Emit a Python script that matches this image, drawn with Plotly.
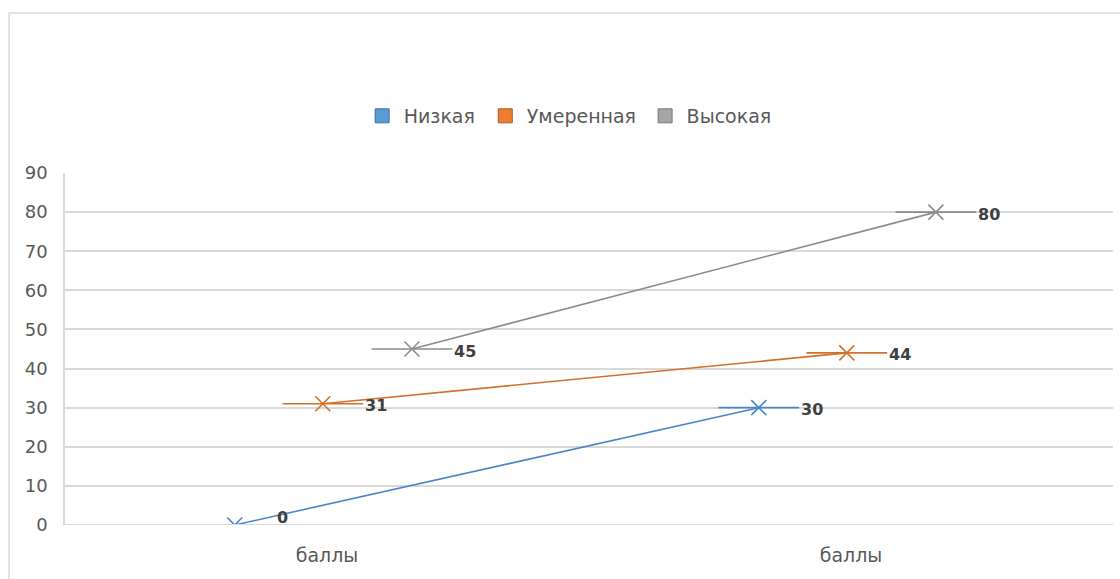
import plotly.graph_objects as go

# Data
categories = ["баллы", "баллы"]
series_names = ["Низкая", "Умеренная", "Высокая"]
nizkaya = [0, 30]
umerennaya = [31, 44]
vysokaya = [45, 80]
y_ticks = [0, 10, 20, 30, 40, 50, 60, 70, 80, 90]

series_values = [nizkaya, umerennaya, vysokaya]

# Styling
line_colors = ["#4A86C5", "#D4702C", "#8C8C8C"]
legend_colors = ["#5B9BD5", "#ED7D31", "#A5A5A5"]
legend_borders = ["#41719C", "#AE5A21", "#787878"]
series_shift = [-0.176, -0.008, 0.162]   # horizontal offset of each series within a category
whisker = 0.077                          # half-length of the horizontal dash through each point
legend_x = [0.2821, 0.3996, 0.5521]      # left edge of each legend entry (paper units)
FONT = "DejaVu Sans, Open Sans, sans-serif"
TXT = "#595959"
AXIS = "#D9D9D9"
Y_MIN, Y_MAX = 0, 90

cat_pos = list(range(len(categories)))

fig = go.Figure()

for name, vals, col, shift in zip(series_names, series_values, line_colors, series_shift):
    xs = [p + shift for p in cat_pos]
    fig.add_trace(go.Scatter(
        x=xs, y=vals, name=name, mode="lines+markers",
        line=dict(color=col, width=1.6),
        marker=dict(symbol="x-thin-open", size=15, line=dict(color=col, width=1.6), color=col),
        error_x=dict(type="constant", value=whisker, thickness=1.6, width=0, color=col),
        cliponaxis=True, showlegend=False,
    ))
    for x, v in zip(xs, vals):
        # labels sitting on the bottom edge are nudged up to stay inside the plot area
        fig.add_annotation(
            x=x, y=v, text=str(v), showarrow=False, xanchor="left", yanchor="middle",
            xshift=40, yshift=8 if v <= Y_MIN else -2,
            font=dict(family=FONT, size=16, color="#404040", weight="bold"),
        )

# Legend entries shown as filled squares, one legend box per series
legend_keys = ["legend", "legend2", "legend3"]
for name, col, bcol, key in zip(series_names, legend_colors, legend_borders, legend_keys):
    fig.add_trace(go.Scatter(
        x=[None], y=[None], name=name, mode="markers", legend=key,
        marker=dict(symbol="square", size=14, color=col, line=dict(color=bcol, width=1)),
    ))

# Category axis baseline, drawn over the series
fig.add_shape(type="line", xref="paper", yref="y", x0=0, x1=1, y0=Y_MIN, y1=Y_MIN,
              line=dict(color=AXIS, width=2), layer="above")

# Outer chart frame
fig.add_shape(type="rect", xref="paper", yref="paper",
              x0=-0.0534, x1=1.2, y0=-0.3, y1=1.4545,
              line=dict(color=AXIS, width=1.5), fillcolor="rgba(0,0,0,0)", layer="below")

legend_style = dict(orientation="h", xanchor="left", y=1.162, yanchor="middle",
                    font=dict(family=FONT, size=19, color=TXT), itemwidth=33,
                    bgcolor="rgba(0,0,0,0)")

fig.update_layout(
    width=1120, height=579,
    margin=dict(l=65, r=7, t=173, b=54),
    paper_bgcolor="white", plot_bgcolor="white",
    font=dict(family=FONT, size=17, color=TXT),
    showlegend=True,
    legend=dict(x=legend_x[0], **legend_style),
    legend2=dict(x=legend_x[1], **legend_style),
    legend3=dict(x=legend_x[2], **legend_style),
    xaxis=dict(
        range=[-0.5, len(categories) - 0.5],
        tickmode="array", tickvals=cat_pos, ticktext=categories,
        showgrid=False, zeroline=False, showline=False,
        ticks="", ticklabelstandoff=17,
        tickfont=dict(family=FONT, size=19, color=TXT),
    ),
    yaxis=dict(
        range=[Y_MIN, Y_MAX], tickmode="array", tickvals=y_ticks,
        showgrid=True, gridcolor=AXIS, gridwidth=1.5,
        zeroline=False, showline=True, linecolor=AXIS, linewidth=1.5,
        ticks="", ticklabelstandoff=12,
        tickfont=dict(family=FONT, size=18, color=TXT),
    ),
)

fig.write_html("out.html")
